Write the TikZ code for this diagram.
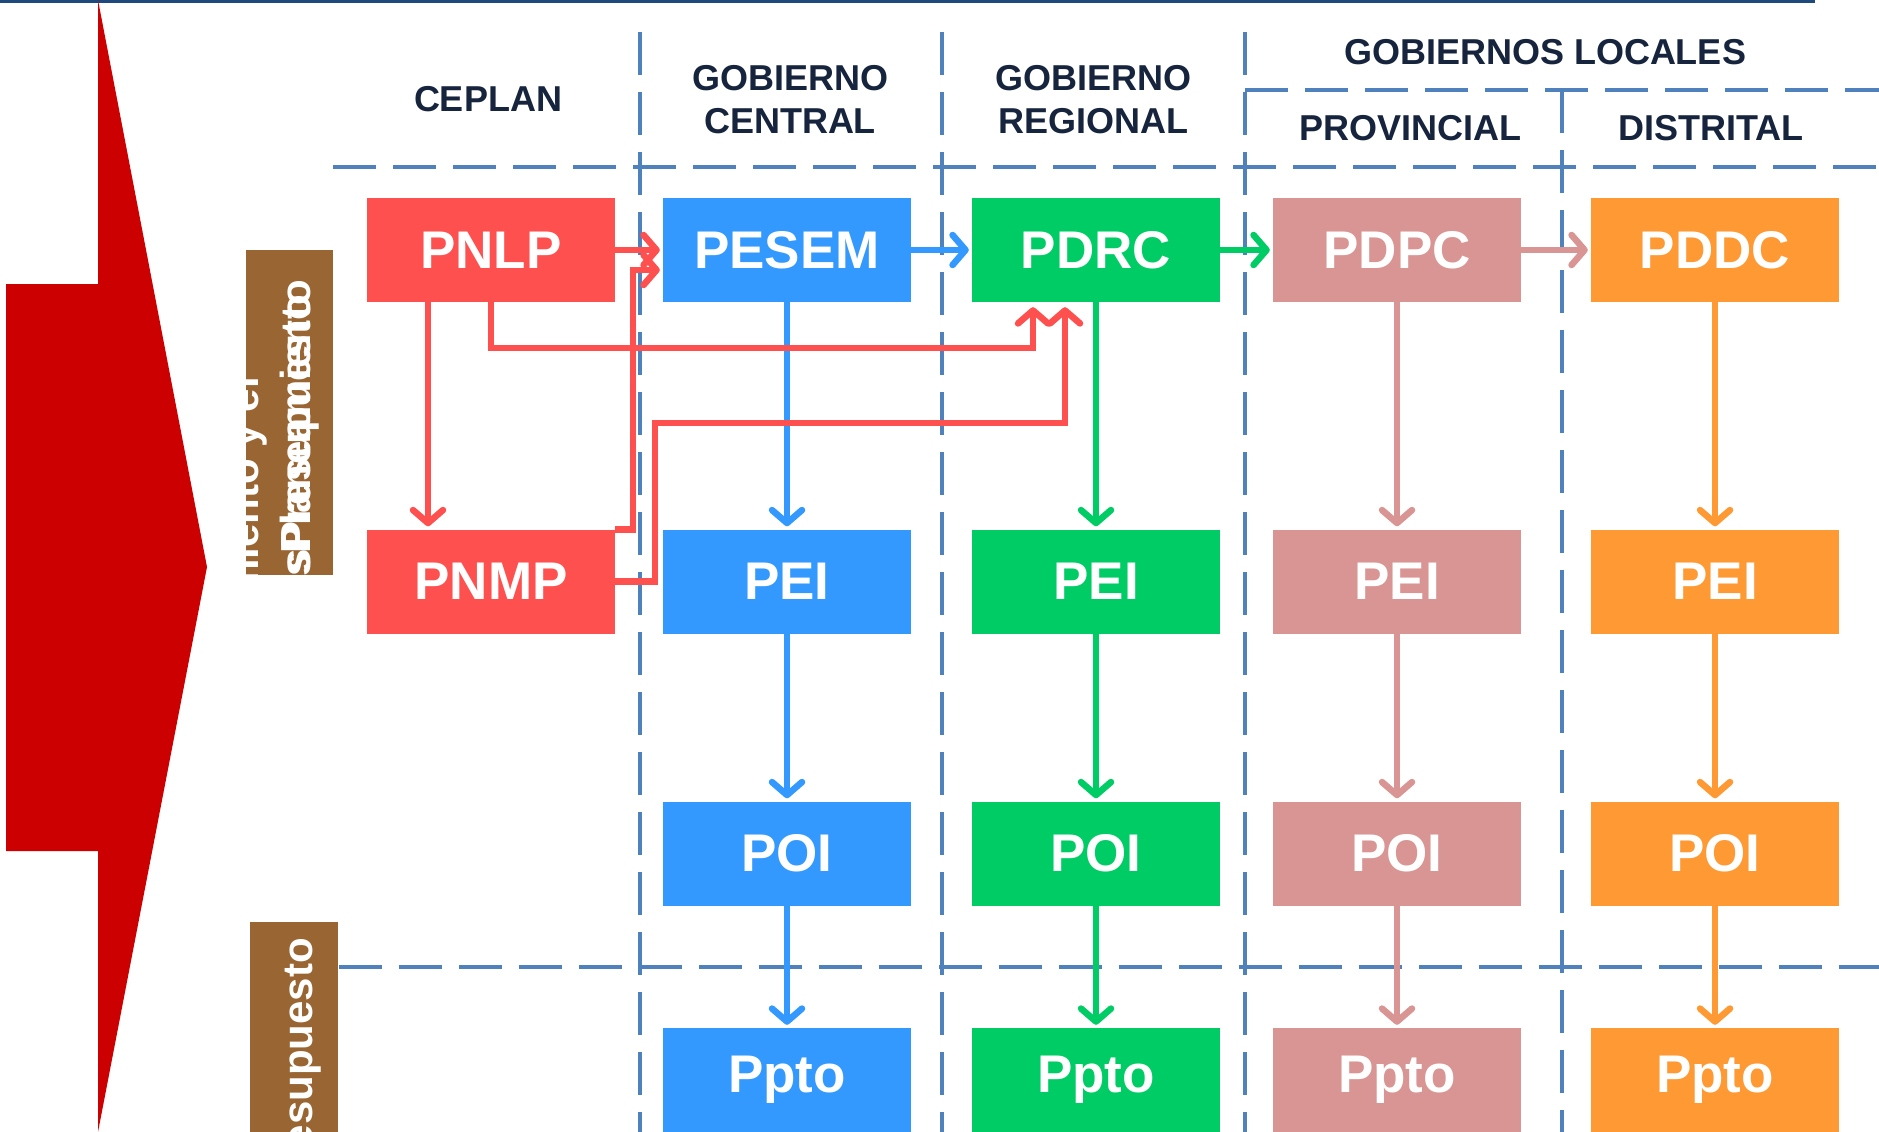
\documentclass[tikz,border=0pt]{standalone}
\usepackage{fontspec}
\setmainfont{Liberation Sans}
\usetikzlibrary{arrows.meta}
\definecolor{cred}{HTML}{FF5050}
\definecolor{cblue}{HTML}{3399FF}
\definecolor{cgreen}{HTML}{00CC66}
\definecolor{cpink}{HTML}{D99594}
\definecolor{corange}{HTML}{FF9933}
\definecolor{cbrown}{HTML}{996633}
\definecolor{bigred}{HTML}{CC0000}
\definecolor{dashblue}{HTML}{4F81BD}
\definecolor{navytext}{HTML}{17243D}
\definecolor{topline}{HTML}{1F497D}
\begin{document}
\begin{tikzpicture}[x=1pt,y=-1pt,
  box/.style={minimum width=248pt, minimum height=104pt, inner sep=0pt, text=white,
    font=\fontsize{53}{60}\selectfont\bfseries},
  hdr/.style={text=navytext, font=\fontsize{36}{43}\selectfont\bfseries, align=center, inner sep=0pt},
  dline/.style={draw=dashblue, line width=4pt, dash pattern=on 43pt off 17pt},
  arr/.style={line width=6.5pt, shorten >=3pt, -{Straight Barb[length=13pt,width=30pt,round]}},
  vtext/.style={rotate=90, anchor=base east, inner sep=0pt, text=white,
    font=\fontsize{42}{48}\selectfont\bfseries}]
\useasboundingbox (0,0) rectangle (1879,1132);
\clip (0,0) rectangle (1879,1132);
% top line
\draw[topline, line width=3pt] (0,2) -- (1815,2);
% big red arrow
\fill[bigred] (6,284) -- (98,284) -- (98,0) -- (207,567) -- (98,1132) -- (98,851) -- (6,851) -- cycle;
% brown boxes
\fill[cbrown] (246,250) rectangle (333,575);
\node[vtext] at (258,377) {Planeamiento y el};
\node[vtext] at (310,280) {sPlaneamiento};
\node[vtext] at (310,295) {sPresupuesto};
\fill[cbrown] (250,922) rectangle (338,1140);
\node[vtext] at (312,938) {Presupuesto};
% dashed lines
\draw[dline] (640,32) -- (640,1140);
\draw[dline] (942,32) -- (942,1140);
\draw[dline] (1245,32) -- (1245,1140);
\draw[dline] (1562,90) -- (1562,1140);
\draw[dline] (1245,90) -- (1879,90);
\draw[dline] (333,167) -- (1879,167);
\draw[dline] (339,967) -- (1879,967);
% headers
\node[hdr] (hceplan) at (488,99) {CEPLAN};
\node[hdr] (hcentral) at (790,100) {GOBIERNO\\CENTRAL};
\node[hdr] (hregional) at (1093,100) {GOBIERNO\\REGIONAL};
\node[hdr] (hlocales) at (1545,52) {GOBIERNOS LOCALES};
\node[hdr] (hprov) at (1410,128) {PROVINCIAL};
\node[hdr] (hdist) at (1711,128) {DISTRITAL};
% boxes
\node[box, fill=cred] (PNLP) at (491,250) {PNLP};
\node[box, fill=cred] (PNMP) at (491,581.5) {PNMP};
\node[box, fill=cblue] (PESEM) at (787,250) {PESEM};
\node[box, fill=cblue] (PEIb) at (787,581.5) {PEI};
\node[box, fill=cblue] (POIb) at (787,853.5) {POI};
\node[box, fill=cblue] (PPb) at (787,1080) {Ppto};
\node[box, fill=cgreen] (PDRC) at (1096,250) {PDRC};
\node[box, fill=cgreen] (PEIg) at (1096,581.5) {PEI};
\node[box, fill=cgreen] (POIg) at (1096,853.5) {POI};
\node[box, fill=cgreen] (PPg) at (1096,1080) {Ppto};
\node[box, fill=cpink] (PDPC) at (1397,250) {PDPC};
\node[box, fill=cpink] (PEIp) at (1397,581.5) {PEI};
\node[box, fill=cpink] (POIp) at (1397,853.5) {POI};
\node[box, fill=cpink] (PPp) at (1397,1080) {Ppto};
\node[box, fill=corange] (PDDC) at (1715,250) {PDDC};
\node[box, fill=corange] (PEIo) at (1715,581.5) {PEI};
\node[box, fill=corange] (POIo) at (1715,853.5) {POI};
\node[box, fill=corange] (PPo) at (1715,1080) {Ppto};
% vertical arrows
\draw[arr, cblue] (PESEM) -- (PEIb);
\draw[arr, cblue] (PEIb) -- (POIb);
\draw[arr, cblue] (POIb) -- (PPb);
\draw[arr, cgreen] (PDRC) -- (PEIg);
\draw[arr, cgreen] (PEIg) -- (POIg);
\draw[arr, cgreen] (POIg) -- (PPg);
\draw[arr, cpink] (PDPC) -- (PEIp);
\draw[arr, cpink] (PEIp) -- (POIp);
\draw[arr, cpink] (POIp) -- (PPp);
\draw[arr, corange] (PDDC) -- (PEIo);
\draw[arr, corange] (PEIo) -- (POIo);
\draw[arr, corange] (POIo) -- (PPo);
% horizontal arrows
\draw[arr, cblue] (PESEM) -- (PDRC);
\draw[arr, cgreen] (PDRC) -- (PDPC);
\draw[arr, cpink] (PDPC) -- (PDDC);
% red connectors
\coordinate (r1) at (1033,348);
\coordinate (r2a) at (655,423);
\coordinate (r2b) at (1065,423);
\coordinate (r3) at (633,270);
\draw[arr, cred] ([xshift=-63pt]PNLP.south) -- ([xshift=-63pt]PNMP.north);
\draw[arr, cred, shorten >=5pt] (PNLP.south) |- (r1) -- (r1 |- PDRC.south);
\draw[arr, cred, shorten >=5pt] (PNMP.east) -| (r2a) -- (r2b) -- (r2b |- PDRC.south);
\draw[arr, cred] (PNMP.north east) -| (r3) -- (r3 -| PESEM.west);
\draw[arr, cred] (PNLP) -- (PESEM);
\end{tikzpicture}
\end{document}
